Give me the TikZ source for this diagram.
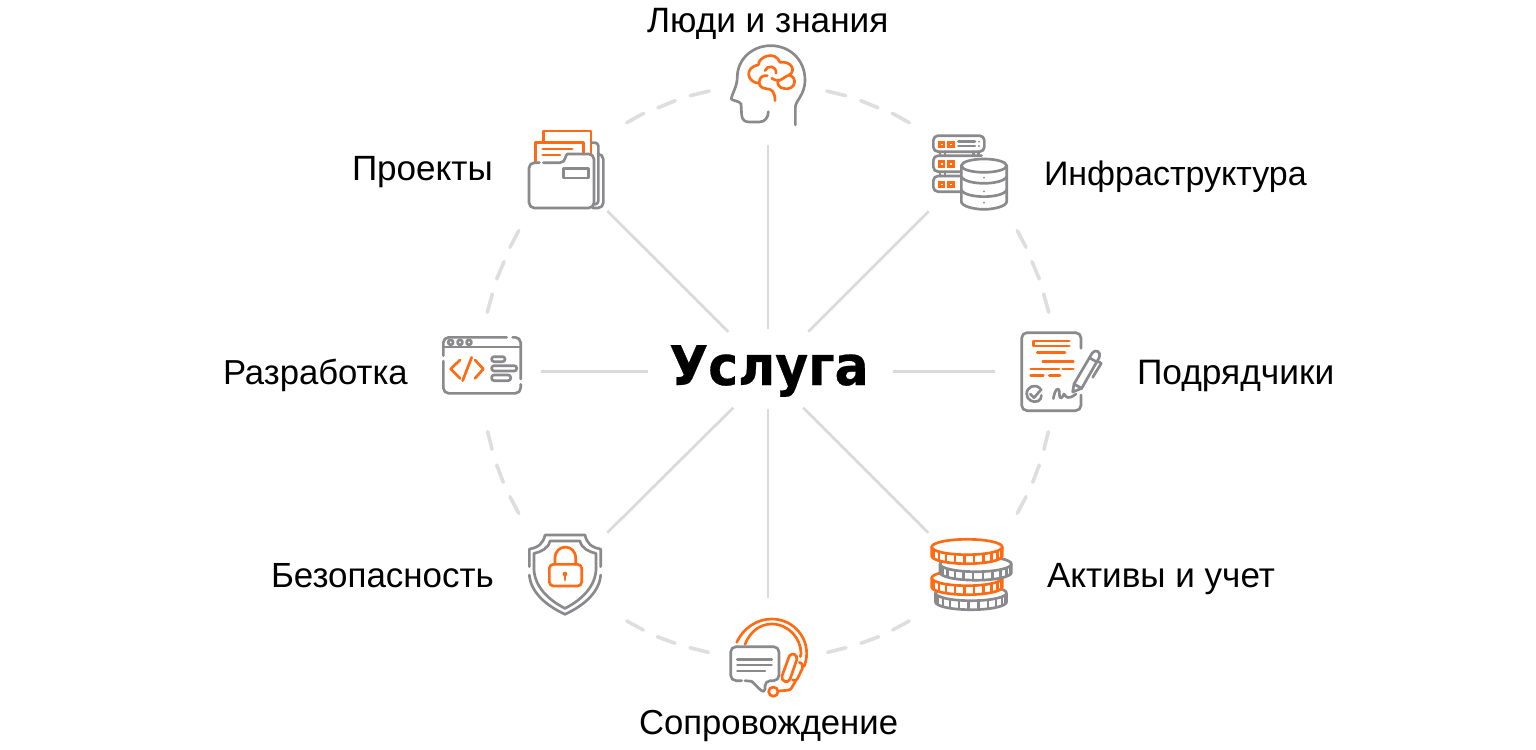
\documentclass[tikz,border=0pt]{standalone}
\usepackage{fontspec}
\usepackage{graphicx}
\setmainfont{Liberation Sans}
\newfontfamily\titlefont{DejaVu Sans Bold}[FakeBold=0.5]
\definecolor{icongray}{HTML}{8A8A8D}
\definecolor{iconorange}{HTML}{FF6A13}
\definecolor{spokegray}{HTML}{DADADA}
\definecolor{dashgray}{HTML}{DEDEDE}
\newcommand{\lsz}[1]{\fontsize{#1pt}{30pt}\selectfont}
\tikzset{
  gl/.style={draw=icongray,line width=2pt,line cap=round,line join=round},
  ol/.style={draw=iconorange,line width=2pt,line cap=round,line join=round},
  spoke/.style={draw=spokegray,line width=2pt},
  dashseg/.style={draw=dashgray,line width=2.7pt,line cap=round},
  lab/.style={anchor=base west,inner sep=0pt,outer sep=0pt,text=black},
  zoomed/.style={scale=0.33333}
}
% coin: cx, top ellipse cy, rx, ry, height, colour
\newcommand{\coindraw}[6]{%
  \fill[white] (#1-#3,#2) -- (#1-#3,#2+#5) arc[start angle=180,end angle=360,x radius=#3,y radius=-#4] -- (#1+#3,#2) arc[start angle=0,end angle=180,x radius=#3,y radius=-#4] -- cycle;
  \foreach \t in {14,30,...,166}{
    \draw[draw=#6,line width=1.7pt] ({#1+#3*cos(\t)},{#2+#4*sin(\t)}) -- ({#1+#3*cos(\t)},{#2+#5+#4*sin(\t)});
  }
  \draw[draw=#6,line width=2pt,line join=round] (#1,#2) ellipse[x radius=#3,y radius=#4];
  \draw[draw=#6,line width=2pt,line join=round] (#1-#3,#2) -- (#1-#3,#2+#5) arc[start angle=180,end angle=360,x radius=#3,y radius=-#4] -- (#1+#3,#2);
}
\begin{document}
\begin{tikzpicture}[x=0.75pt,y=-0.75pt]
\useasboundingbox (0,0) rectangle (1536,750);
\fill[white] (0,0) rectangle (1536,750);

% dashed ring (mirrored about x=768)
\foreach \a/\b/\c/\d in {
  826.7/91/845.7/95.7, 860.7/100.7/878/107.7, 892.3/113.3/909.3/122.7,
  1017.3/230.7/1026/247.3, 1032/261.7/1039.3/279, 1043.7/294/1048.7/312.3,
  1048.3/431.7/1044/449.3, 1039.3/465/1032.7/482.3, 1026/496.7/1017.3/513.3,
  909.3/621/892.7/630, 878.7/636.7/861/643.3, 846/647.7/827.7/652.3}{
  \draw[dashseg] (\a,\b) -- (\c,\d);
  \draw[dashseg] ({1536-\a},\b) -- ({1536-\c},\d);
}

% centre
\node[anchor=base,inner sep=0pt,font=\titlefont\fontsize{41pt}{48pt}\selectfont] (usluga) at (769,385) {\scalebox{0.925}[1]{Услуга}};

% spokes
\coordinate (nA) at (768,145); \coordinate (nB) at (768,329);
\coordinate (sA) at (768,409); \coordinate (sB) at (768,598);
\coordinate (wA) at (541,371.5); \coordinate (wB) at (648,371.5);
\coordinate (eA) at (893,371.5); \coordinate (eB) at (995,371.5);
\coordinate (neA) at (928.7,211.3); \coordinate (neB) at (808.3,331.7);
\coordinate (nwA) at (607.3,211); \coordinate (nwB) at (728.3,331.7);
\coordinate (seA) at (803.3,407.7); \coordinate (seB) at (928.3,532.7);
\coordinate (swA) at (733.3,407.7); \coordinate (swB) at (607.3,532.7);
\draw[spoke] (nA) -- (nB);
\draw[spoke] (sA) -- (sB);
\draw[spoke] (wA) -- (wB);
\draw[spoke] (eA) -- (eB);
\draw[spoke] (neA) -- (neB);
\draw[spoke] (nwA) -- (nwB);
\draw[spoke] (seA) -- (seB);
\draw[spoke] (swA) -- (swB);

% labels
\node[lab,font=\lsz{26.4}] (l1) at (647,32) {Люди и знания};
\node[lab,font=\lsz{25.5}] (l2) at (1044,185.5) {Инфраструктура};
\node[lab,font=\lsz{26.5}] (l3) at (1137,384.5) {Подрядчики};
\node[lab,font=\lsz{26.3}] (l4) at (1047,587.5) {Активы и учет};
\node[lab,font=\lsz{26}] (l5) at (639,734) {Сопровождение};
\node[lab,font=\lsz{26.2}] (l6) at (271,587.5) {Безопасность};
\node[lab,font=\lsz{26}] (l7) at (223,384.5) {Разработка};
\node[lab,font=\lsz{26.3}] (l8) at (352,180.5) {Проекты};

% head + brain
\begin{scope}[shift={(510,30)},zoomed]
\draw[gl] (856,285) -- (856,232) .. controls (856,212) and (885,195) .. (885,150)
  .. controls (885,90) and (840,47) .. (782,47)
  .. controls (725,47) and (682,90) .. (682,140)
  .. controls (682,170) and (664,195) .. (664,207)
  .. controls (668,213) and (688,212) .. (693,222)
  -- (695,255) .. controls (696,270) and (705,276) .. (718,276)
  -- (748,276) .. controls (765,276) and (775,262) .. (775,245);
\draw[ol] (748,160) .. controls (710,158) and (702,112) .. (745,105)
  .. controls (745,80) and (795,60) .. (810,97)
  .. controls (842,92) and (860,120) .. (838,135)
  .. controls (865,145) and (855,180) .. (825,176)
  .. controls (805,175) and (800,160) .. (805,150);
\draw[ol] (795,212) .. controls (795,185) and (785,176) .. (768,176)
  .. controls (752,176) and (742,160) .. (750,148)
  .. controls (752,140) and (762,135) .. (772,137);
\draw[ol] (765,122) .. controls (770,105) and (800,105) .. (798,130);
\draw[ol] (785,145) .. controls (795,150) and (805,155) .. (815,148) .. controls (825,142) and (828,138) .. (838,135);
\end{scope}

% folder
\begin{scope}[shift={(510,30)},zoomed]
\draw[ol] (100,335) -- (100,303) -- (243,303) -- (243,372);
\draw[ol] (77,394) -- (77,338) -- (220,338) -- (220,372);
\draw[ol] (98,357) -- (187,357);
\draw[ol] (98,375) -- (150,375);
\draw[gl,rounded corners=2.5pt] (243,338) -- (265,338) -- (265,523) -- (250,523);
\draw[gl,rounded corners=4pt] (268,372) -- (280,372) -- (280,534) -- (248,534);
\draw[gl,rounded corners=4pt] (88,398) -- (57,398) -- (57,534) -- (252,534) -- (252,372) -- (172,372);
\draw[gl] (172,372) .. controls (165,374) and (168,398) .. (150,398) -- (100,398);
\draw[gl] (160,416) rectangle (236,444);
\end{scope}

% servers + database
\begin{scope}[shift={(910,120)},zoomed]
\foreach \x in {90,105,190,205}{\draw[gl] (\x,95) -- (\x,107);}
\foreach \x in {90,105}{\draw[gl] (\x,155) -- (\x,168);}
\draw[gl,rounded corners=3.5pt] (70,47) rectangle (223,95);
\draw[gl,rounded corners=3.5pt] (160,155) -- (70,155) -- (70,107) -- (215,107);
\draw[gl,rounded corners=3.5pt] (155,215) -- (70,215) -- (70,168) -- (155,168);
\foreach \y in {62,121,182}{
  \foreach \x in {84,112}{
    \fill[iconorange] (\x,\y) rectangle ++(22,22);
    \fill[white] (\x+8.5,\y+8.5) rectangle ++(5,5);
  }
}
\draw[gl] (145,65) -- (195,65);
\draw[gl] (145,78) -- (195,78);
\fill[icongray] (207,65) circle (3.2);
\fill[icongray] (207,78) circle (3.2);
\draw[gl,fill=white] (154,137) -- (154,245) .. controls (154,258) and (190,268) .. (222,268)
  .. controls (254,268) and (290,258) .. (290,245) -- (290,137) -- cycle;
\draw[gl,fill=white] (222,137) ellipse[x radius=68,y radius=20];
\draw[gl] (154,170) .. controls (160,184) and (195,190) .. (222,190) .. controls (249,190) and (284,184) .. (290,170);
\draw[gl] (154,210) .. controls (160,224) and (195,230) .. (222,230) .. controls (249,230) and (284,224) .. (290,210);
\foreach \y in {173,214,248}{\fill[icongray] (222,\y) circle (3);}
\end{scope}

% contract
\begin{scope}[shift={(1000,320)},zoomed]
\draw[gl,rounded corners=4pt] (243,85) -- (243,38) -- (65,38) -- (65,272) -- (243,272) -- (243,225);
\draw[ol] (208,63) -- (100,63) -- (100,78) -- (208,78);
\draw[ol] (112,97) -- (195,97);
\draw[ol] (128,124) -- (220,124);
\draw[ol] (92,147) -- (177,147);
\draw[ol] (188,147) -- (220,147);
\draw[ol] (92,167) -- (130,167);
\draw[ol] (148,167) -- (180,167);
\draw[gl] (120,205) .. controls (105,190) and (80,200) .. (80,222) .. controls (80,240) and (100,250) .. (115,243) .. controls (122,240) and (124,232) .. (124,226);
\draw[gl] (91,222) -- (102,233) -- (124,208);
\draw[gl] (160,236) .. controls (165,205) and (178,198) .. (178,218) .. controls (178,240) and (185,238) .. (192,222) .. controls (198,232) and (205,240) .. (228,222);
\draw[gl] (218,216) -- (222,192) -- (276,100) .. controls (285,85) and (305,95) .. (298,112) -- (245,205) -- cycle;
\draw[gl] (222,192) -- (245,205);
\draw[gl] (268,113) -- (292,127);
\draw[gl] (296,125) -- (304,130) -- (278,172);
\end{scope}

% coins
\coindraw{971}{593}{35.5}{7.7}{9}{icongray}
\coindraw{967}{578}{35.3}{7.7}{9}{iconorange}
\coindraw{975.7}{564}{35.7}{7.7}{8.5}{icongray}
\coindraw{967}{547}{35.3}{7.7}{9}{iconorange}

% headset
\begin{scope}[shift={(710,610)},zoomed]
\draw[ol] (80,97) .. controls (100,55) and (140,27) .. (185,27) .. controls (245,27) and (290,75) .. (290,130) .. controls (290,145) and (287,158) .. (282,170);
\draw[ol] (105,103) .. controls (120,65) and (150,42) .. (185,42) .. controls (235,42) and (273,85) .. (273,130) -- (271,140);
\draw[ol] (238,138) .. controls (246,126) and (264,133) .. (260,150) -- (240,208) .. controls (234,222) and (212,214) .. (216,198) -- cycle;
\draw[ol] (268,157) .. controls (278,160) and (280,168) .. (277,176) -- (262,207) .. controls (258,212) and (254,212) .. (248,210);
\draw[ol] (257,212) -- (246,232) .. controls (242,240) and (238,241) .. (230,241) -- (205,243);
\draw[ol] (190,245) circle (14);
\draw[gl,rounded corners=4pt] (95,212) -- (62,212) -- (62,110) -- (207,110) -- (207,212) -- (165,212) [sharp corners] -- (165,238) .. controls (165,245) and (158,246) .. (153,241) -- (125,214) -- (105,212);
\draw[gl] (82,148) -- (185,148);
\draw[gl] (82,165) -- (185,165);
\draw[gl] (82,183) -- (165,183);
\end{scope}

% shield
\begin{scope}[shift={(510,525)},zoomed]
\draw[gl] (58,125) -- (58,72) .. controls (85,68) and (100,55) .. (105,30) -- (225,30) .. controls (230,55) and (245,68) .. (272,72) -- (272,125);
\draw[gl] (272,150) .. controls (268,200) and (225,240) .. (165,268) .. controls (105,240) and (62,200) .. (58,150);
\draw[gl] (72,85) .. controls (95,80) and (115,70) .. (120,48) -- (210,48) .. controls (215,70) and (235,80) .. (258,85) -- (258,135) .. controls (255,185) and (215,225) .. (165,250) .. controls (115,225) and (75,185) .. (72,135) -- cycle;
\draw[ol,rounded corners=3pt] (118,118) rectangle (215,183);
\draw[ol] (135,118) -- (135,100) .. controls (135,55) and (197,55) .. (197,100) -- (197,118);
\fill[iconorange] (165,147) circle (7);
\draw[ol,line width=1.5pt] (165,147) -- (165,165);
\end{scope}

% browser
\begin{scope}[shift={(430,325)},zoomed]
\draw[gl,rounded corners=4pt] (230,37) -- (40,37) -- (40,92);
\draw[gl,rounded corners=4pt] (40,108) -- (40,205) -- (272,205) -- (272,178);
\draw[gl,rounded corners=4pt] (272,162) -- (272,37) -- (248,37);
\draw[gl] (40,66) -- (272,66);
\foreach \x in {62,90,117}{\draw[gl] (\x,52) circle (7.5);}
\draw[ol] (90,105) -- (62,132) -- (90,160);
\draw[ol] (125,97) -- (98,167);
\draw[ol] (135,105) -- (160,132) -- (135,160);
\draw[gl,rounded corners=1.8pt] (185,95) rectangle (225,110);
\draw[gl,rounded corners=1.8pt] (185,122) rectangle (260,138);
\draw[gl,rounded corners=1.8pt] (185,150) rectangle (242,167);
\end{scope}
\end{tikzpicture}
\end{document}
